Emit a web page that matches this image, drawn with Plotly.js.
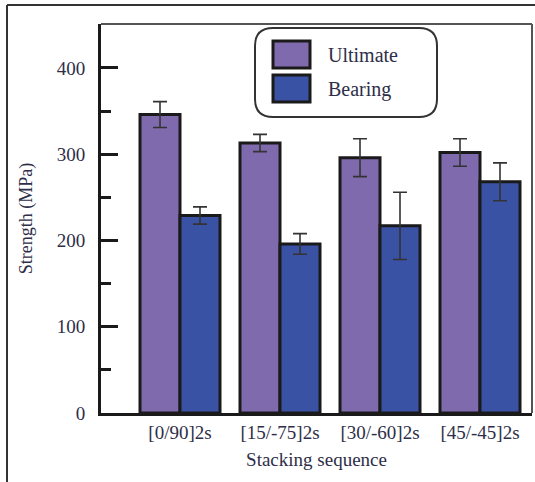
<!DOCTYPE html>
<html>
<head>
<meta charset="utf-8">
<script src="https://cdn.plot.ly/plotly-3.0.1.min.js"></script>
<style>html,body{margin:0;padding:0;background:#fff;}#chart{width:535px;height:482px;}</style>
</head>
<body>
<div id="chart"></div>
<script>
var categories = ["[0/90]2s", "[15/-75]2s", "[30/-60]2s", "[45/-45]2s"];
var seriesNames = ["Ultimate", "Bearing"];
var ultimate = [346, 313, 296, 302];
var ultimateErr = [15, 10, 22, 16];
var bearing = [229, 196, 217, 268];
var bearingErr = [10, 12, 39, 22];
var yTickVals = [0, 100, 200, 300, 400];
var yTickText = ["0", "100", "200", "300", "400"];

var purple = "#806aae";
var blue = "#3a52a4";
var serif = "Liberation Serif";
var textCol = "#2e2e48";

function errCfg(arr) {
  return {type: "data", array: arr, visible: true, color: "#333333", thickness: 1.6, width: 7};
}

var traces = [
  {type: "bar", name: seriesNames[0], x: categories, y: ultimate,
   marker: {color: purple, line: {color: "#1a1a1a", width: 3}},
   error_y: errCfg(ultimateErr), showlegend: false},
  {type: "bar", name: seriesNames[1], x: categories, y: bearing,
   marker: {color: blue, line: {color: "#1a1a1a", width: 3}},
   error_y: errCfg(bearingErr), showlegend: false}
];

// pixel -> paper helpers (plot area: x 101..532, y 24..413)
function px(v) { return (v - 101) / 431; }
function py(v) { return (413 - v) / 389; }

var rr = 18, hw = 91, hh = 44.5;
var roundPath = "M" + (-hw + rr) + "," + (-hh) + " L" + (hw - rr) + "," + (-hh) +
  " Q" + hw + "," + (-hh) + " " + hw + "," + (-hh + rr) +
  " L" + hw + "," + (hh - rr) +
  " Q" + hw + "," + hh + " " + (hw - rr) + "," + hh +
  " L" + (-hw + rr) + "," + hh +
  " Q" + (-hw) + "," + hh + " " + (-hw) + "," + (hh - rr) +
  " L" + (-hw) + "," + (-hh + rr) +
  " Q" + (-hw) + "," + (-hh) + " " + (-hw + rr) + "," + (-hh) + " Z";

var shapes = [
  {type: "line", xref: "paper", yref: "paper", x0: px(7), x1: px(7), y0: py(5), y1: py(485), line: {color: "#333", width: 2}},
  {type: "line", xref: "paper", yref: "paper", x0: px(7), x1: px(540), y0: py(5), y1: py(5), line: {color: "#333", width: 2}},
  {type: "line", xref: "paper", yref: "paper", x0: 0, x1: 1, y0: 1, y1: 1, line: {color: "#555", width: 2}},
  {type: "line", xref: "paper", yref: "paper", x0: 1, x1: 1, y0: 0, y1: 1, line: {color: "#555", width: 2}},
  {type: "path", xref: "paper", yref: "paper", xsizemode: "pixel", ysizemode: "pixel",
   xanchor: px(346), yanchor: py(72.5), path: roundPath,
   fillcolor: "rgba(255,255,255,1)", line: {color: "#333", width: 2}},
  {type: "rect", xref: "paper", yref: "paper", x0: px(273), x1: px(310), y0: py(41), y1: py(68),
   fillcolor: purple, line: {color: "#1a1a1a", width: 3}},
  {type: "rect", xref: "paper", yref: "paper", x0: px(273), x1: px(310), y0: py(75), y1: py(102),
   fillcolor: blue, line: {color: "#1a1a1a", width: 3}}
];

var annotations = [
  {xref: "paper", yref: "paper", x: px(326), y: py(55), xanchor: "left", yanchor: "middle",
   text: seriesNames[0], showarrow: false, font: {family: serif, size: 20, color: textCol}},
  {xref: "paper", yref: "paper", x: px(326), y: py(89), xanchor: "left", yanchor: "middle",
   text: seriesNames[1], showarrow: false, font: {family: serif, size: 20, color: textCol}}
];

var layout = {
  width: 535, height: 482,
  margin: {l: 101, r: 3, t: 24, b: 69, pad: 0},
  paper_bgcolor: "#fff", plot_bgcolor: "#fff",
  barmode: "group", bargap: 0.2, bargroupgap: 0,
  showlegend: false,
  font: {family: serif, color: textCol},
  xaxis: {
    range: [-0.79, 3.52], type: "category", tickvals: categories, ticktext: categories,
    showline: true, linecolor: "#1a1a1a", linewidth: 3, ticks: "", showgrid: false, zeroline: false,
    tickfont: {family: serif, size: 19, color: textCol},
    title: {text: "Stacking sequence", font: {family: serif, size: 19, color: textCol}, standoff: 11},
    automargin: false, fixedrange: true
  },
  yaxis: {
    range: [0, 451], tickmode: "array", tickvals: yTickVals, ticktext: yTickText,
    showline: true, linecolor: "#1a1a1a", linewidth: 3,
    ticks: "inside", ticklen: 17, tickwidth: 3, tickcolor: "#1a1a1a",
    minor: {dtick: 50, tick0: 50, ticks: "inside", ticklen: 10, tickwidth: 3, tickcolor: "#1a1a1a", showgrid: false},
    showgrid: false, zeroline: false, ticklabelstandoff: 9,
    tickfont: {family: serif, size: 19, color: textCol},
    title: {text: "Strength (MPa)", font: {family: serif, size: 18, color: textCol}, standoff: 20},
    automargin: false, fixedrange: true
  },
  shapes: shapes,
  annotations: annotations
};

Plotly.newPlot("chart", traces, layout, {displayModeBar: false, staticPlot: true});
</script>
</body>
</html>
